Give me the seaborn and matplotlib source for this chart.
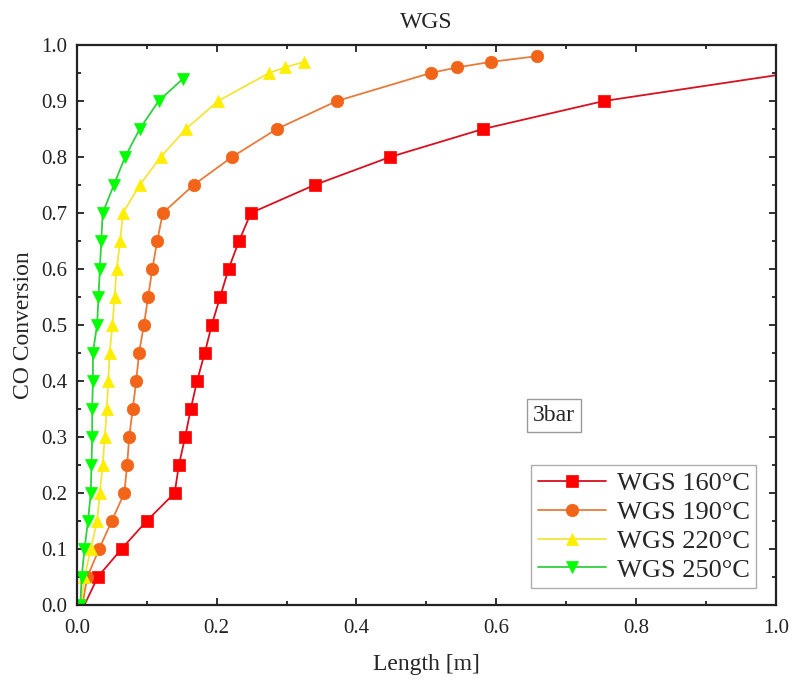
import matplotlib
matplotlib.use("Agg")
import matplotlib.pyplot as plt
import seaborn as sns
import pandas as pd
from matplotlib.ticker import MultipleLocator

sns.set_style("ticks")
plt.rcParams['font.family'] = ['Liberation Serif', 'DejaVu Serif']
plt.rcParams['mathtext.fontset'] = 'stix'

# Data (length [m], CO conversion)
conv_160 = [0.0, 0.05, 0.10, 0.15, 0.20, 0.25, 0.30, 0.35, 0.40, 0.45, 0.50,
            0.55, 0.60, 0.65, 0.70, 0.75, 0.80, 0.85, 0.90, 0.946]
len_160 = [0.011, 0.030, 0.064, 0.100, 0.140, 0.146, 0.155, 0.163, 0.172, 0.183,
           0.193, 0.205, 0.217, 0.232, 0.249, 0.340, 0.448, 0.581, 0.754, 1.0]

conv_190 = [0.0, 0.05, 0.10, 0.15, 0.20, 0.25, 0.30, 0.35, 0.40, 0.45, 0.50,
            0.55, 0.60, 0.65, 0.70, 0.75, 0.80, 0.85, 0.90, 0.95, 0.96, 0.97, 0.98]
len_190 = [0.008, 0.015, 0.032, 0.050, 0.068, 0.072, 0.075, 0.080, 0.085, 0.089,
           0.096, 0.102, 0.108, 0.115, 0.123, 0.167, 0.222, 0.286, 0.372, 0.506,
           0.544, 0.593, 0.658]

conv_220 = [0.0, 0.05, 0.10, 0.15, 0.20, 0.25, 0.30, 0.35, 0.40, 0.45, 0.50,
            0.55, 0.60, 0.65, 0.70, 0.75, 0.80, 0.85, 0.90, 0.95, 0.96, 0.97]
len_220 = [0.006, 0.011, 0.020, 0.029, 0.033, 0.037, 0.040, 0.043, 0.045, 0.047,
           0.051, 0.054, 0.057, 0.062, 0.066, 0.090, 0.120, 0.156, 0.202, 0.275,
           0.298, 0.325]

conv_250 = [0.0, 0.05, 0.10, 0.15, 0.20, 0.25, 0.30, 0.35, 0.40, 0.45, 0.50,
            0.55, 0.60, 0.65, 0.70, 0.75, 0.80, 0.85, 0.90, 0.94]
len_250 = [0.005, 0.007, 0.011, 0.016, 0.020, 0.021, 0.022, 0.022, 0.023, 0.023,
           0.029, 0.031, 0.033, 0.035, 0.037, 0.053, 0.069, 0.090, 0.117, 0.152]

labels = ["WGS 160°C", "WGS 190°C", "WGS 220°C", "WGS 250°C"]
series = [(len_160, conv_160, 's', '#ff0000', '#d81020', slice(1, -1)),
          (len_190, conv_190, 'o', '#f26418', '#e87b3a', slice(1, None)),
          (len_220, conv_220, '^', '#ffee00', '#f2e63a', slice(1, None)),
          (len_250, conv_250, 'v', '#00ff00', '#30d040', slice(0, None))]

fig = plt.figure(figsize=(8, 6.82), dpi=100)
ax = fig.add_axes([0.096, 0.113, 0.874, 0.821])

for (x, y, m, mc, lc, every), lab in zip(series, labels):
    df = pd.DataFrame({'Length': x, 'Conv': y})
    sns.lineplot(data=df, x='Length', y='Conv', ax=ax, sort=False, estimator=None,
                 color=lc, marker=m, markersize=9, markerfacecolor=mc,
                 markeredgecolor=mc, markeredgewidth=0.5, linewidth=1.3,
                 markevery=every, label=lab)

ax.set_xlim(0, 1.0)
ax.set_ylim(0, 1.0)
ax.xaxis.set_major_locator(MultipleLocator(0.2))
ax.xaxis.set_minor_locator(MultipleLocator(0.1))
ax.yaxis.set_major_locator(MultipleLocator(0.1))
ax.yaxis.set_minor_locator(MultipleLocator(0.05))
ax.set_xticklabels([f"{v:.1f}" for v in ax.get_xticks()])
ax.set_yticklabels([f"{v:.1f}" for v in ax.get_yticks()])
ax.tick_params(which='both', direction='in', top=True, right=True,
               labelsize=15, width=1.3, colors='#222222')
ax.tick_params(axis='x', which='major', length=5, pad=10)
ax.tick_params(axis='y', which='major', length=5, pad=7)
ax.tick_params(which='minor', length=3)
for s in ax.spines.values():
    s.set_linewidth(1.6)
    s.set_color('#222222')

ax.set_xlabel("Length [m]", fontsize=17, labelpad=12)
ax.set_ylabel("CO Conversion", fontsize=17, labelpad=5)
ax.set_title("WGS", fontsize=17, pad=12)

leg = ax.legend(loc='lower right', bbox_to_anchor=(0.972, 0.03), borderaxespad=0,
                fontsize=19, frameon=True, fancybox=False, edgecolor='#999999',
                handlelength=2.6, handletextpad=0.4, labelspacing=0.2,
                borderpad=0.25, numpoints=1)
leg.get_frame().set_linewidth(1.0)

ax.text(0.652, 0.338, "3bar", transform=ax.transAxes, fontsize=17,
        va='center', ha='left',
        bbox=dict(boxstyle='square,pad=0.25', fc='white', ec='#999999', lw=1.0))

fig.savefig("out.png", dpi=100)
